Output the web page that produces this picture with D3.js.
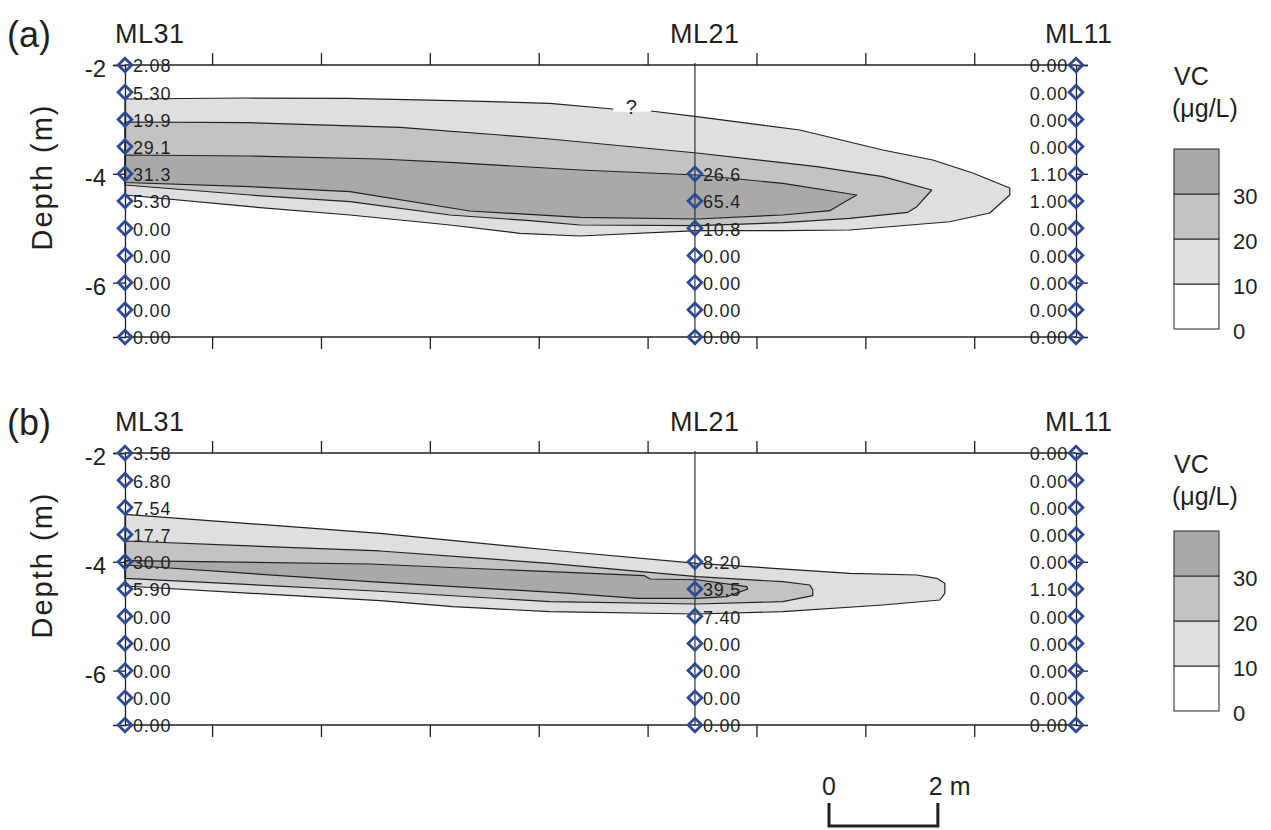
<!DOCTYPE html>
<html><head><meta charset="utf-8">
<script src="https://cdn.jsdelivr.net/npm/d3@7"></script>
<style>
body{margin:0;background:#fff;}
svg{display:block;font-family:"Liberation Sans",Arial,sans-serif;}
</style></head>
<body><svg id="chart" width="1271" height="830"></svg>
<script>
// ---------- data ----------
const depths = [-2,-2.5,-3,-3.5,-4,-4.5,-5,-5.5,-6,-6.5,-7];
const depthsML21 = [-4,-4.5,-5,-5.5,-6,-6.5,-7];
const wellNames = ["ML31","ML21","ML11"];
const wellPos = [0, 10.47, 17.47];           // m from ML31
const xTicks = [1.6,3.6,5.6,7.6,9.6,11.6,13.6,15.6];
const yTicks = [-2,-4,-6];
const levels = [0,10,20,30,40];
const legendLabels = [0,10,20,30];
const bandColors = ["#ffffff","#dfdfdf","#c3c3c3","#a9a9a9"];

// panel (a)
const a_ML31 = [2.08,5.30,19.9,29.1,31.3,5.30,0,0,0,0,0];
const a_ML21 = [26.6,65.4,10.8,0,0,0,0];
const a_ML11 = [0,0,0,0,1.10,1.00,0,0,0,0,0];
// panel (b)
const b_ML31 = [3.58,6.80,7.54,17.7,30.0,5.90,0,0,0,0,0];
const b_ML21 = [8.20,39.5,7.40,0,0,0,0];
const b_ML11 = [0,0,0,0,0,1.10,0,0,0,0,0];

// contour polygons [x (m), depth (m)]
const a_c10 = [[0,-2.625],[2.204,-2.607],[4.077,-2.612],[6.024,-2.656],[7.805,-2.704],[8.962,-2.809],[9.660,-2.846],[10.505,-2.950],[12.397,-3.195],[13.921,-3.563],[14.839,-3.746],[15.574,-3.985],[16.253,-4.261],
  [16.253,-4.390],[15.886,-4.721],[15.152,-4.881],[13.315,-5.033],[12.084,-5.046],[10.505,-5.046],[8.356,-5.143],[7.254,-5.094],[5.969,-4.941],[4.132,-4.757],[2.296,-4.605],[0,-4.390]];
const a_c20 = [[0,-3.048],[2.296,-3.061],[5.051,-3.145],[6.887,-3.287],[7.805,-3.360],[10.505,-3.618],[12.709,-3.869],[13.921,-4.053],[14.821,-4.298],
  [14.545,-4.605],[14.380,-4.708],[13.315,-4.818],[12.084,-4.899],[10.505,-4.954],[8.356,-4.941],[7.438,-4.862],[5.969,-4.757],[4.132,-4.513],[2.296,-4.390],[0,-4.206]];
const a_c30 = [[0,-3.654],[2.296,-3.673],[4.683,-3.728],[5.969,-3.789],[8.356,-3.930],[10.505,-4.022],[12.084,-4.175],[13.444,-4.390],
  [13.186,-4.537],[12.948,-4.678],[12.084,-4.757],[10.505,-4.831],[8.356,-4.800],[6.336,-4.684],[4.132,-4.329],[2.296,-4.237],[0,-4.160]];

const b_c10 = [[0,-3.127],[4.683,-3.476],[7.805,-3.783],[10.505,-4.028],[13.315,-4.211],[14.545,-4.243],[14.913,-4.303],[15.060,-4.395],
  [15.060,-4.579],[14.968,-4.702],[13.921,-4.794],[12.084,-4.917],[10.505,-4.960],[7.805,-4.917],[6.024,-4.825],[4.683,-4.715],[0,-4.445]];
const b_c20 = [[0,-3.618],[4.683,-3.801],[7.805,-4.028],[10.505,-4.274],[12.084,-4.366],[12.580,-4.426],[12.635,-4.518],
  [12.635,-4.623],[12.084,-4.733],[10.505,-4.776],[7.805,-4.733],[4.591,-4.537],[0,-4.303]];
const b_c30 = [[0,-3.980],[4.500,-4.040],[7.805,-4.182],[9.540,-4.255],[9.650,-4.316],[10.505,-4.330],[11.423,-4.458],
  [11.442,-4.500],[11.056,-4.641],[10.505,-4.671],[9.403,-4.671],[8.173,-4.579],[4.500,-4.366],[0,-4.059]];

// ---------- layout ----------
const svg = d3.select("#chart");
const x = d3.scaleLinear().domain([0, 17.47]).range([125, 1076]);
const fmt = d3.format(".3r");
const ink = "#231f20";
const blue = "#2c4a98";

const panels = [
  {tag:"(a)", top:65, wells:[a_ML31,a_ML21,a_ML11], contours:[a_c10,a_c20,a_c30], legendTop:149, question:true},
  {tag:"(b)", top:453, wells:[b_ML31,b_ML21,b_ML11], contours:[b_c10,b_c20,b_c30], legendTop:531, question:false}
];

panels.forEach(p => {
  const y = d3.scaleLinear().domain([-2,-7]).range([p.top, p.top + 272]);
  const g = svg.append("g");

  // contour bands
  const line = d3.line().x(d => x(d[0])).y(d => y(d[1]));
  p.contours.forEach((poly, i) => {
    g.append("path").attr("d", line(poly) + "Z")
      .attr("fill", bandColors[i+1]).attr("stroke", "#222").attr("stroke-width", 1.2)
      .attr("stroke-linejoin","round");
  });

  if (p.question) {
    g.append("rect").attr("x", x(8.97)).attr("y", y(-2.58)).attr("width", x(9.66)-x(8.97)).attr("height", y(-2.86)-y(-2.58)).attr("fill","#fff");
    g.append("text").attr("x", x(9.3)).attr("y", y(-2.9)).attr("text-anchor","middle")
      .attr("font-size", 20).attr("fill", ink).text("?");
  }

  // frame: top/bottom axes
  g.append("line").attr("x1", x(0)).attr("x2", x(17.47)).attr("y1", y(-2)).attr("y2", y(-2)).attr("stroke", ink).attr("stroke-width",1.3);
  g.append("line").attr("x1", x(0)).attr("x2", x(17.47)).attr("y1", y(-7)).attr("y2", y(-7)).attr("stroke", ink).attr("stroke-width",1.3);
  g.append("g").attr("transform",`translate(0,${y(-2)})`)
    .call(d3.axisTop(x).tickValues(xTicks).tickSize(12).tickFormat(""))
    .call(s => { s.select(".domain").remove(); s.selectAll("line").attr("stroke", ink).attr("stroke-width",1.3); });
  g.append("g").attr("transform",`translate(0,${y(-7)})`)
    .call(d3.axisBottom(x).tickValues(xTicks).tickSize(12).tickFormat(""))
    .call(s => { s.select(".domain").remove(); s.selectAll("line").attr("stroke", ink).attr("stroke-width",1.3); });

  // left axis (ML31)
  g.append("g").attr("transform",`translate(${x(0)},0)`)
    .call(d3.axisLeft(y).tickValues(yTicks).tickSize(12).tickFormat(""))
    .call(s => { s.select(".domain").attr("stroke", ink).attr("stroke-width",1.3); s.selectAll("line").attr("stroke", ink).attr("stroke-width",1.3); });
  // right axis (ML11)
  g.append("g").attr("transform",`translate(${x(17.47)},0)`)
    .call(d3.axisRight(y).tickValues(yTicks).tickSize(12).tickFormat(""))
    .call(s => { s.select(".domain").attr("stroke", ink).attr("stroke-width",1.3); s.selectAll("line").attr("stroke", ink).attr("stroke-width",1.3); });
  // ML21 line
  g.append("line").attr("x1", x(wellPos[1])).attr("x2", x(wellPos[1])).attr("y1", y(-2)-2).attr("y2", y(-7))
    .attr("stroke", "#333").attr("stroke-width",1.2);

  // y tick labels
  g.selectAll(".ytl").data(yTicks).join("text")
    .attr("x", 106).attr("y", d => y(d) + 4).attr("dy","0.35em").attr("text-anchor","end")
    .attr("font-size", 24).attr("fill", ink).text(d => d);

  // Depth label
  g.append("text").attr("transform",`translate(52,${p.top + 112}) rotate(-90)`)
    .attr("text-anchor","middle").attr("font-size", 29).attr("letter-spacing", 2).attr("fill", ink).text("Depth (m)");

  // panel tag
  g.append("text").attr("x", 7).attr("y", p.top - 18).attr("font-size", 36).attr("fill", ink).text(p.tag);

  // well names
  const nameX = [115, 670, 1045];
  wellNames.forEach((n,i) => {
    g.append("text").attr("x", nameX[i]).attr("y", p.top - 22).attr("font-size", 27).attr("letter-spacing", 0.5).attr("fill", ink).text(n);
  });

  // markers and labels
  const diamond = d3.symbol().type(d3.symbolDiamond2).size(120);
  p.wells.forEach((vals, i) => {
    const ds = i === 1 ? depthsML21 : depths;
    const pts = vals.map((v,k) => ({v, d: ds[k]}));
    const wx = x(wellPos[i]);
    g.selectAll(null).data(pts).join("text")
      .attr("x", i === 2 ? wx - 8 : wx + 8)
      .attr("y", d => y(d.d) + 1).attr("dy","0.36em")
      .attr("text-anchor", i === 2 ? "end" : "start")
      .attr("font-size", 18).attr("letter-spacing", 0.8).attr("fill", ink)
      .text(d => fmt(d.v));
    g.selectAll(null).data(pts).join("path")
      .attr("d", diamond).attr("transform", d => `translate(${wx},${y(d.d)})`)
      .attr("fill","none").attr("stroke", blue).attr("stroke-width", 2.8);
  });

  // legend
  const ly = d3.scaleLinear().domain([0,40]).range([p.legendTop + 180, p.legendTop]);
  const lx = 1174, lw = 45;
  for (let i = 0; i < 4; i++) {
    g.append("rect").attr("x", lx).attr("y", ly(levels[i+1])).attr("width", lw).attr("height", ly(levels[i]) - ly(levels[i+1]))
      .attr("fill", bandColors[i]).attr("stroke", "#333").attr("stroke-width", 1.1);
  }
  g.selectAll(null).data(legendLabels).join("text")
    .attr("x", 1233).attr("y", d => ly(d) + 2).attr("dy","0.35em")
    .attr("font-size", 22).attr("fill", ink).text(d => d);
  g.append("text").attr("x", 1174).attr("y", p.top + 20).attr("font-size", 25).attr("fill", ink).text("VC");
  g.append("text").attr("x", 1172).attr("y", p.top + 52).attr("font-size", 25).attr("fill", ink).text("(μg/L)");
});

// scale bar (2 m)
const sb0 = 829, sbY = 826;
const sbLen = x(2) - x(0);
svg.append("path").attr("d", `M${sb0},${sbY-23}V${sbY}H${sb0+sbLen}V${sbY-23}`)
  .attr("fill","none").attr("stroke", ink).attr("stroke-width", 3);
svg.append("text").attr("x", sb0).attr("y", 795).attr("text-anchor","middle").attr("font-size", 25).attr("fill", ink).text("0");
svg.append("text").attr("x", sb0 + sbLen - 9).attr("y", 795).attr("font-size", 25).attr("fill", ink).text("2 m");
</script></body></html>
